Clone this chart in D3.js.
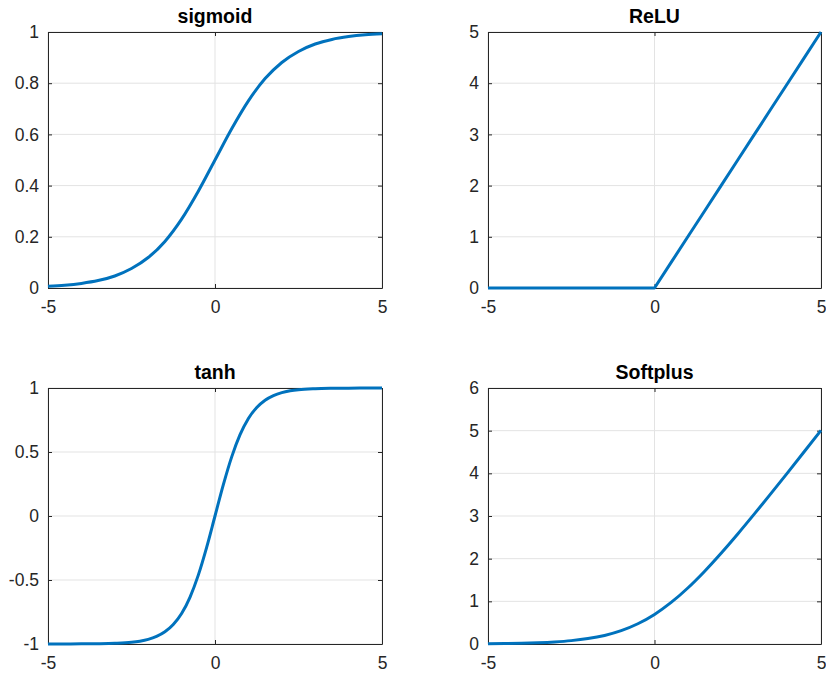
<!DOCTYPE html>
<html>
<head>
<meta charset="utf-8">
<script src="https://cdn.jsdelivr.net/npm/d3@7"></script>
<style>
  body { margin: 0; background: #fff; }
  svg { display: block; font-family: "Liberation Sans", Arial, Helvetica, sans-serif; }
</style>
</head>
<body>
<svg></svg>
<script>
var screen = {width: 826, height: 675};

// x samples
var xs = [-5, -4.5, -4, -3.5, -3, -2.5, -2, -1.5, -1, -0.5, 0, 0.5, 1, 1.5, 2, 2.5, 3, 3.5, 4, 4.5, 5];
var tanhXs = [-5, -4.5, -4, -3.5, -3, -2.5, -2.25, -2, -1.75, -1.5, -1.25, -1, -0.75, -0.5, -0.25, 0,
              0.25, 0.5, 0.75, 1, 1.25, 1.5, 1.75, 2, 2.25, 2.5, 3, 3.5, 4, 4.5, 5];

var sigmoidVals = [0.007, 0.011, 0.018, 0.029, 0.047, 0.076, 0.119, 0.182, 0.269, 0.378, 0.5,
                   0.622, 0.731, 0.818, 0.881, 0.924, 0.953, 0.971, 0.982, 0.989, 0.993];
var reluVals = [0, 0, 0, 0, 0, 0, 0, 0, 0, 0, 0, 0.5, 1, 1.5, 2, 2.5, 3, 3.5, 4, 4.5, 5];
var tanhVals = [-1, -1, -0.999, -0.998, -0.995, -0.987, -0.978, -0.964, -0.941, -0.905, -0.848, -0.762, -0.635, -0.462, -0.245, 0,
                0.245, 0.462, 0.635, 0.762, 0.848, 0.905, 0.941, 0.964, 0.978, 0.987, 0.995, 0.998, 0.999, 1, 1];
var softplusVals = [0.007, 0.011, 0.018, 0.030, 0.049, 0.079, 0.127, 0.201, 0.313, 0.474, 0.693,
                    0.974, 1.313, 1.701, 2.127, 2.579, 3.049, 3.530, 4.018, 4.511, 5.007];

var titles = ["sigmoid", "ReLU", "tanh", "Softplus"];
var xTicks = [-5, 0, 5];
var yTicksSig = [0, 0.2, 0.4, 0.6, 0.8, 1];
var yTicksRelu = [0, 1, 2, 3, 4, 5];
var yTicksTanh = [-1, -0.5, 0, 0.5, 1];
var yTicksSoft = [0, 1, 2, 3, 4, 5, 6];

var panels = [
  {title: titles[0], xs: xs, vals: sigmoidVals, yDomain: [0, 1], yTicks: yTicksSig, curve: d3.curveMonotoneX,
   box: {left: 48, top: 32, right: 382, bottom: 288}},
  {title: titles[1], xs: xs, vals: reluVals, yDomain: [0, 5], yTicks: yTicksRelu, curve: d3.curveLinear,
   box: {left: 488, top: 32, right: 821, bottom: 288}},
  {title: titles[2], xs: tanhXs, vals: tanhVals, yDomain: [-1, 1], yTicks: yTicksTanh, curve: d3.curveMonotoneX,
   box: {left: 48, top: 388, right: 382, bottom: 644}},
  {title: titles[3], xs: xs, vals: softplusVals, yDomain: [0, 6], yTicks: yTicksSoft, curve: d3.curveMonotoneX,
   box: {left: 488, top: 388, right: 821, bottom: 644}}
];

var svg = d3.select("svg")
    .attr("width", screen.width)
    .attr("height", screen.height);

var fmt = function(d) { return String(d); };

panels.forEach(function(p, i)
{
    var w = p.box.right - p.box.left;
    var h = p.box.bottom - p.box.top;

    var g = svg.append("g")
        .attr("transform", "translate(" + p.box.left + "," + p.box.top + ")");

    var xScale = d3.scaleLinear().domain([-5, 5]).range([0, w]);
    var yScale = d3.scaleLinear().domain(p.yDomain).range([h, 0]);

    // grid
    g.append("g").selectAll("line").data(p.yTicks).enter().append("line")
        .attr("x1", 0).attr("x2", w)
        .attr("y1", function(d) { return yScale(d); })
        .attr("y2", function(d) { return yScale(d); })
        .attr("stroke", "#e3e3e3").attr("stroke-width", 1);
    g.append("g").selectAll("line").data(xTicks).enter().append("line")
        .attr("y1", 0).attr("y2", h)
        .attr("x1", function(d) { return xScale(d); })
        .attr("x2", function(d) { return xScale(d); })
        .attr("stroke", "#e3e3e3").attr("stroke-width", 1);

    // axes with inward ticks
    var xAxis = d3.axisBottom(xScale).tickValues(xTicks).tickFormat(fmt).tickSizeInner(-4).tickSizeOuter(0).tickPadding(13);
    var yAxis = d3.axisLeft(yScale).tickValues(p.yTicks).tickFormat(fmt).tickSizeInner(-4).tickSizeOuter(0).tickPadding(9);
    var xTop = d3.axisTop(xScale).tickValues(xTicks).tickFormat("").tickSizeInner(-4).tickSizeOuter(0);
    var yRight = d3.axisRight(yScale).tickValues(p.yTicks).tickFormat("").tickSizeInner(-4).tickSizeOuter(0);

    var axes = [
      g.append("g").attr("transform", "translate(0," + h + ")").call(xAxis),
      g.append("g").call(yAxis),
      g.append("g").call(xTop),
      g.append("g").attr("transform", "translate(" + w + ",0)").call(yRight)
    ];
    axes.forEach(function(a)
    {
        a.selectAll(".domain").attr("stroke", "#262626");
        a.selectAll(".tick line").attr("stroke", "#262626");
        a.selectAll("text")
            .attr("fill", "#262626")
            .style("font-size", "17.5px")
            .style("font-family", "'Liberation Sans', Arial, sans-serif");
    });

    // curve
    var pts = p.xs.map(function(x, k) { return [x, p.vals[k]]; });
    var line = d3.line()
        .x(function(d) { return xScale(d[0]); })
        .y(function(d) { return yScale(d[1]); })
        .curve(p.curve);

    g.append("path")
        .datum(pts)
        .attr("d", line)
        .attr("fill", "none")
        .attr("stroke", "#0072BD")
        .attr("stroke-width", 3)
        .attr("stroke-linejoin", "round");

    // title
    g.append("text")
        .attr("x", w / 2)
        .attr("y", -9)
        .attr("text-anchor", "middle")
        .attr("fill", "#000")
        .style("font-size", "19.5px")
        .style("font-weight", "bold")
        .text(p.title);
});
</script>
</body>
</html>
